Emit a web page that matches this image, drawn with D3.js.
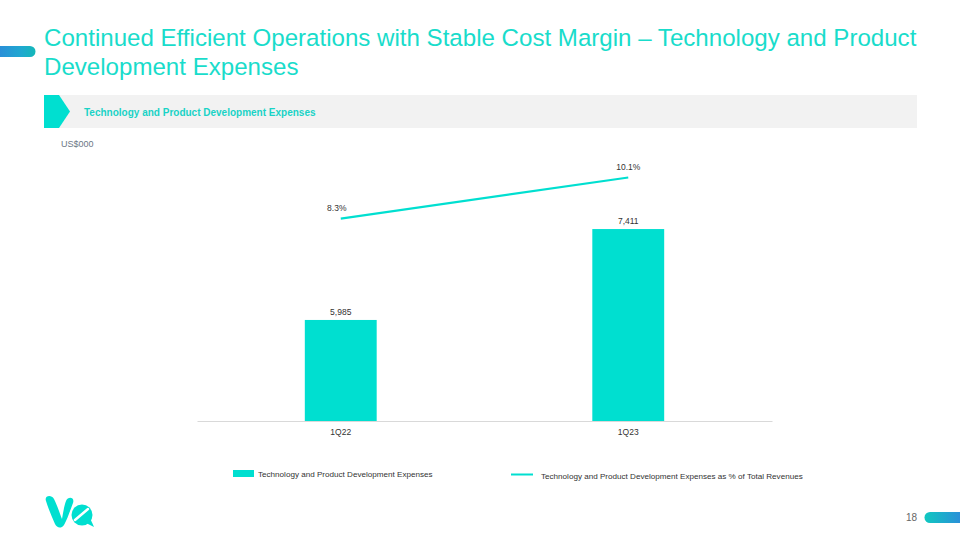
<!DOCTYPE html>
<html><head><meta charset="utf-8">
<script src="https://cdn.jsdelivr.net/npm/d3@7"></script>
<style>body{margin:0;background:#fff}svg{display:block;font-family:"Liberation Sans",Arial,sans-serif}</style>
</head><body>
<script>
const categories = ["1Q22", "1Q23"];
const expenses = [5985, 7411];
const expenseLabels = ["5,985", "7,411"];
const pctOfRevenue = [8.3, 10.1];
const pctLabels = ["8.3%", "10.1%"];
const legendLabels = ["Technology and Product Development Expenses", "Technology and Product Development Expenses as % of Total Revenues"];

const teal = "#00DFD0";
const W = 960, H = 540;
const svg = d3.select("body").append("svg").attr("width", W).attr("height", H);
const defs = svg.append("defs");
const g1 = defs.append("linearGradient").attr("id","gl").attr("x1","0").attr("x2","1");
g1.append("stop").attr("offset","0").attr("stop-color","#2a8fd8");
g1.append("stop").attr("offset","0.6").attr("stop-color","#1fa8d0");
g1.append("stop").attr("offset","1").attr("stop-color","#14b8b8");
const g2 = defs.append("linearGradient").attr("id","gr").attr("x1","0").attr("x2","1");
g2.append("stop").attr("offset","0").attr("stop-color","#10c8c0");
g2.append("stop").attr("offset","1").attr("stop-color","#2a90d8");

// left accent bar
svg.append("path").attr("d","M0,46 H30 A5.5,5.5 0 0 1 30,57 H0 Z").attr("fill","url(#gl)");
// title
const title = svg.append("text").attr("x",44).attr("fill","#19DCCB").attr("font-size",24.1);
title.append("tspan").attr("x",44).attr("y",46).text("Continued Efficient Operations with Stable Cost Margin \u2013 Technology and Product");
title.append("tspan").attr("x",44).attr("y",75).text("Development Expenses");

// header band
svg.append("rect").attr("x",44).attr("y",95).attr("width",873).attr("height",33).attr("fill","#f2f2f2");
svg.append("path").attr("d","M44,95 H59 L70,111.5 L59,128 H44 Z").attr("fill",teal);
svg.append("text").attr("x",84).attr("y",115.5).attr("fill","#19D3C6").attr("font-size",10).attr("font-weight","bold").text("Technology and Product Development Expenses");
svg.append("text").attr("x",61).attr("y",147).attr("fill","#6b7785").attr("font-size",9).text("US$000");

// scales
const x = d3.scaleBand().domain(categories).range([197, 772]).paddingInner(0.75).paddingOuter(0.375);
const y = d3.scaleLinear().domain([4400, 8400]).range([421, 166]);
const y2 = d3.scaleLinear().domain([0, 11]).range([408, 157]);

// bars
svg.selectAll("rect.bar").data(expenses).join("rect").attr("class","bar")
  .attr("x",(d,i)=>x(categories[i])).attr("width",x.bandwidth())
  .attr("y",d=>y(d)).attr("height",d=>y.range()[0]-y(d)).attr("fill",teal);
svg.selectAll("text.bl").data(expenses).join("text").attr("class","bl")
  .attr("x",(d,i)=>x(categories[i])+x.bandwidth()/2).attr("y",d=>y(d)-5)
  .attr("text-anchor","middle").attr("font-size",8.5).attr("fill","#333").text((d,i)=>expenseLabels[i]);

// axis
const ax = svg.append("g").attr("transform","translate(0,421)").call(d3.axisBottom(x).tickSize(0).tickPadding(8));
ax.select(".domain").attr("stroke","#d9d9d9").attr("stroke-width",1.2);
ax.selectAll("text").attr("font-size",8.5).attr("fill","#333").attr("font-family","Liberation Sans, Arial, sans-serif");

// line
const line = d3.line().x((d,i)=>x(categories[i])+x.bandwidth()/2).y(d=>y2(d));
svg.append("path").datum(pctOfRevenue).attr("d",line).attr("fill","none").attr("stroke",teal).attr("stroke-width",2.2);
svg.selectAll("text.pl").data(pctOfRevenue).join("text").attr("class","pl")
  .attr("x",(d,i)=>x(categories[i])+x.bandwidth()/2 - (i===0?4:0)).attr("y",d=>y2(d)-8)
  .attr("text-anchor","middle").attr("font-size",8.5).attr("fill","#333").text((d,i)=>pctLabels[i]);

// legend
svg.append("rect").attr("x",233).attr("y",470).attr("width",21).attr("height",7).attr("fill",teal);
svg.append("text").attr("x",258).attr("y",477).attr("font-size",8.1).attr("fill","#333").text(legendLabels[0]);
svg.append("line").attr("x1",511).attr("x2",533).attr("y1",474.5).attr("y2",474.5).attr("stroke",teal).attr("stroke-width",2);
svg.append("text").attr("x",541).attr("y",478.5).attr("font-size",8.1).attr("fill","#333").text(legendLabels[1]);

// logo
const logo = svg.append("g").attr("fill",teal);
logo.append("path").attr("d","M46,501 C44,496 51,494 54,499 C57,505 60,514 62,519 C63,514 64,506 66,501 C68,496 75,497 73,503 C70,511 67,520 64,525 C61,529 57,528 55,524 C52,517 48,508 46,501 Z");
logo.append("circle").attr("cx",82).attr("cy",515).attr("r",10.5);
logo.append("path").attr("d","M86,523 L94,527 L90,518 Z");
svg.append("path").attr("d","M75,520 L88,509").attr("stroke","#fff").attr("stroke-width",2.5).attr("stroke-linecap","round");

// page number and right bar
svg.append("text").attr("x",917).attr("y",521).attr("text-anchor","end").attr("font-size",10).attr("fill","#666").text("18");
svg.append("path").attr("d","M930,512 H960 V523 H930 A5.5,5.5 0 0 1 930,512 Z").attr("fill","url(#gr)");
</script>
</body></html>
